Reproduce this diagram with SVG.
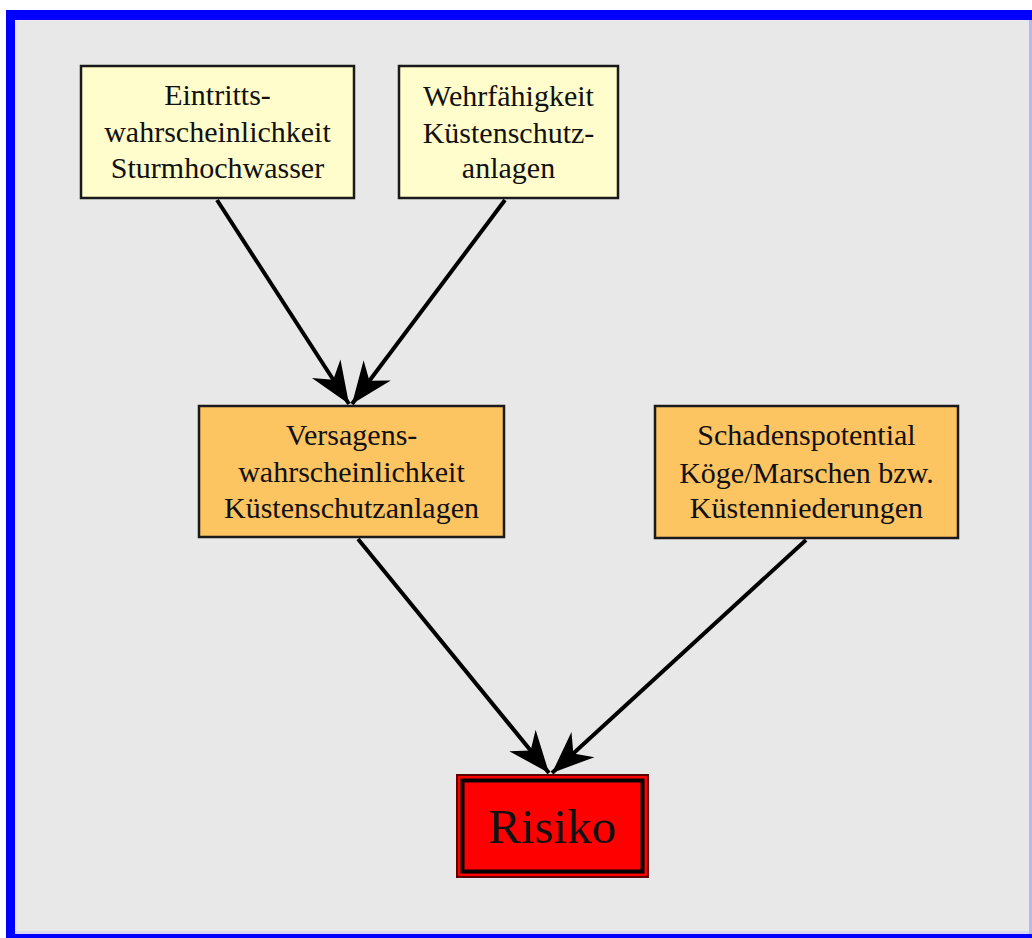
<svg xmlns="http://www.w3.org/2000/svg" width="1032" height="938" viewBox="0 0 1032 938">
<defs>
<style>
.box{stroke:#1a1a1a;stroke-width:2.5}
.y{fill:#fffdcc}
.o{fill:#fdc462}
.t{font-family:"Liberation Serif","Times New Roman",serif;font-size:30px;fill:#111;text-anchor:middle}
.c{stroke:#000;stroke-width:4;fill:none;marker-end:url(#ah)}
</style>
<marker id="ah" markerUnits="userSpaceOnUse" markerWidth="50" markerHeight="44" viewBox="-44 -22 46 44" refX="0" refY="0" orient="auto">
<path d="M0,0 L-42,-17 L-29,0 L-42,17 Z" fill="#000"/>
</marker>
</defs>
<rect x="0" y="0" width="1032" height="938" fill="#ffffff"/>
<rect x="6" y="10" width="1026" height="928" fill="#0000ff"/>
<rect x="15" y="20" width="1017" height="914" fill="#e8e8e8"/>
<rect x="1029" y="20" width="3" height="914" fill="#b8b8f0"/>
<rect x="15" y="931" width="1014" height="3" fill="#d8d8f0"/>
<g id="connectors">
<line class="c" x1="217" y1="200" x2="349" y2="404"/>
<line class="c" x1="505" y1="200" x2="352" y2="404"/>
<line class="c" x1="358" y1="539" x2="549" y2="773"/>
<line class="c" x1="806" y1="540" x2="552" y2="773"/>
</g>
<g id="eintritt">
<rect class="box y" x="81" y="66" width="273" height="132"/>
<text class="t" x="217.5" y="105">Eintritts-</text>
<text class="t" x="217.5" y="142">wahrscheinlichkeit</text>
<text class="t" x="217.5" y="178">Sturmhochwasser</text>
</g>
<g id="wehr">
<rect class="box y" x="399" y="66" width="219" height="132"/>
<text class="t" x="508.5" y="106">Wehrfähigkeit</text>
<text class="t" x="508.5" y="143">Küstenschutz-</text>
<text class="t" x="508.5" y="178">anlagen</text>
</g>
<g id="versagen">
<rect class="box o" x="199" y="406" width="305" height="131"/>
<text class="t" x="351.5" y="445">Versagens-</text>
<text class="t" x="351.5" y="482">wahrscheinlichkeit</text>
<text class="t" x="351.5" y="518">Küstenschutzanlagen</text>
</g>
<g id="schaden">
<rect class="box o" x="655" y="406" width="303" height="132"/>
<text class="t" x="806.5" y="445">Schadenspotential</text>
<text class="t" x="806.5" y="483">Köge/Marschen bzw.</text>
<text class="t" x="806.5" y="518">Küstenniederungen</text>
</g>
<g id="risiko">
<rect x="457" y="775" width="191" height="102" fill="#ff0000" stroke="#5a0000" stroke-width="2"/>
<rect x="462.5" y="780.5" width="180" height="91" fill="none" stroke="#000" stroke-width="4"/>
<text x="552.5" y="843" font-family="Liberation Serif, Times New Roman, serif" font-size="49" fill="#111" text-anchor="middle">Risiko</text>
</g>
</svg>
